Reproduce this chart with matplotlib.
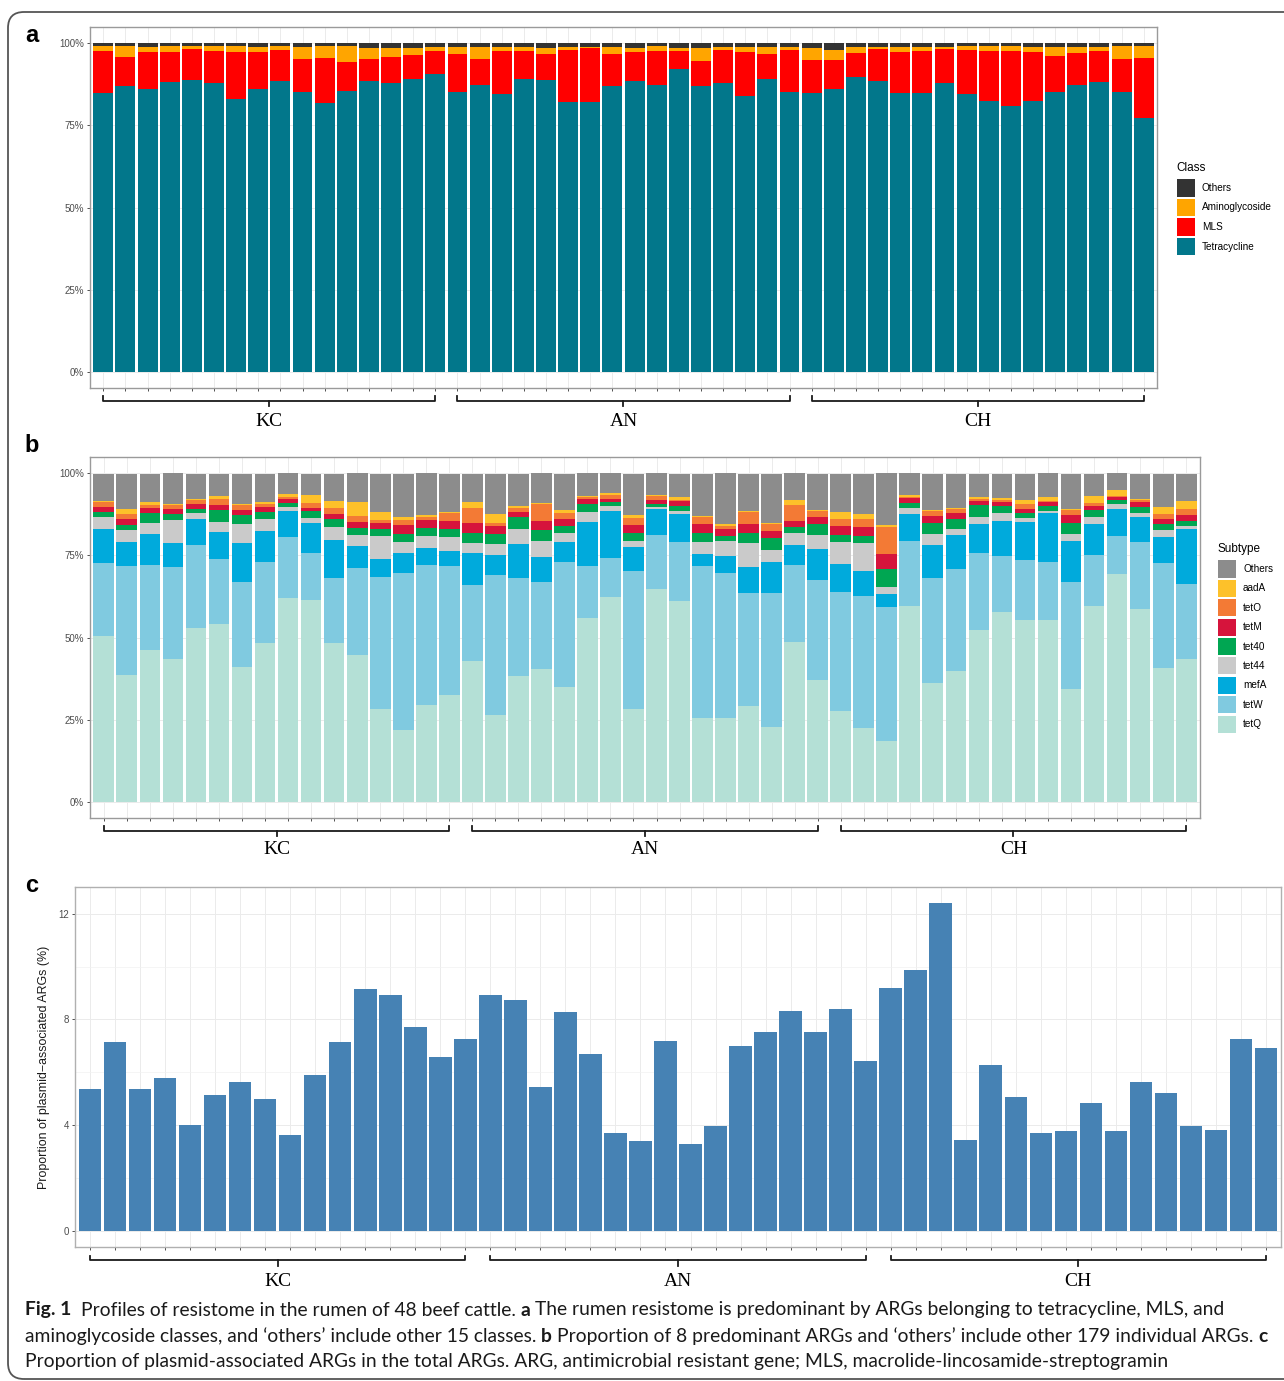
import matplotlib
matplotlib.use("Agg")
import matplotlib.pyplot as plt
from matplotlib import transforms
from matplotlib.patches import Rectangle, FancyBboxPatch
import numpy as np

plt.rcParams['font.family'] = ['Liberation Sans', 'DejaVu Sans']

W, H = 1284, 1381

# ---- data ------------------------------------------------------------------
samples = np.arange(1, 49)
group_names = ["KC", "AN", "CH"]
group_first = [1, 17, 33]
group_last = [16, 32, 48]

# panel a: class composition (%)
class_names = ["Others", "Aminoglycoside", "MLS", "Tetracycline"]
class_colors = ["#333333", "#FFA500", "#FF0000", "#02778B"]
tetracycline = [85.0, 86.9, 86.1, 88.1, 88.8, 88.0, 83.0, 86.1, 88.5, 85.2, 81.8, 85.5, 88.6, 88.0, 89.3, 90.6,
                85.2, 87.4, 84.5, 89.1, 88.9, 82.0, 82.0, 86.9, 88.6, 87.4, 92.2, 87.1, 87.8, 84.0, 89.1, 85.2,
                85.0, 86.0, 89.9, 88.4, 84.8, 84.8, 88.0, 84.7, 82.5, 80.8, 82.5, 85.2, 87.4, 88.1, 85.2, 77.2]
mls = [12.6, 9.1, 11.4, 9.4, 9.5, 9.8, 14.3, 11.4, 9.6, 10.2, 13.8, 8.7, 6.8, 8.0, 7.1, 7.2,
       11.5, 8.0, 13.1, 8.7, 7.8, 16.1, 16.5, 9.8, 8.9, 10.4, 5.6, 7.6, 10.3, 13.5, 7.6, 12.9,
       10.0, 9.0, 7.1, 9.9, 12.7, 13.0, 10.3, 13.4, 15.3, 17.0, 15.0, 11.0, 9.6, 9.7, 10.2, 18.5]
aminoglycoside = [1.5, 3.3, 1.3, 1.6, 0.8, 1.5, 2.0, 1.3, 1.2, 3.6, 3.7, 5.1, 3.1, 2.5, 2.3, 1.2,
                  2.1, 3.4, 1.2, 1.2, 1.8, 0.9, 0.5, 2.1, 1.0, 1.5, 0.7, 3.8, 0.7, 1.3, 2.1, 0.7,
                  3.5, 3.0, 1.8, 0.7, 1.3, 1.0, 0.7, 1.0, 1.3, 1.4, 1.3, 2.6, 1.8, 1.2, 3.7, 3.4]
class_others = [0.9, 0.7, 1.2, 0.9, 0.9, 0.7, 0.7, 1.2, 0.7, 1.0, 0.7, 0.7, 1.5, 1.5, 1.3, 1.0,
                1.2, 1.2, 1.2, 1.0, 1.5, 1.0, 1.0, 1.2, 1.5, 0.7, 1.5, 1.5, 1.2, 1.2, 1.2, 1.2,
                1.5, 2.0, 1.2, 1.0, 1.2, 1.2, 1.0, 0.9, 0.9, 0.8, 1.2, 1.2, 1.2, 1.0, 0.9, 0.9]

# panel b: subtype composition (%)
subtype_names = ["Others", "aadA", "tetO", "tetM", "tet40", "tet44", "mefA", "tetW", "tetQ"]
subtype_colors = ["#8C8C8C", "#FDC12A", "#F37A35", "#D6143C", "#00A652", "#CACACA", "#00AADC", "#80CAE0", "#B4E0D6"]
tetQ = [50.6, 38.5, 46.1, 43.6, 52.9, 54.1, 41.0, 48.3, 62.0, 61.4, 48.4, 44.6, 28.1, 21.8, 29.4, 32.4,
        42.8, 26.5, 38.2, 40.5, 34.8, 55.8, 62.2, 28.1, 64.8, 61.0, 25.5, 25.5, 29.2, 22.6, 48.6, 37.0,
        27.6, 22.3, 18.4, 59.7, 36.0, 39.8, 52.4, 57.9, 55.2, 55.2, 34.4, 59.7, 69.5, 58.7, 40.7, 43.3]
tetW = [22.1, 33.2, 26.1, 27.8, 25.2, 19.8, 25.8, 24.8, 18.5, 14.5, 19.7, 26.5, 40.4, 47.8, 42.7, 39.3,
        23.3, 42.6, 29.8, 26.5, 38.1, 15.9, 12.0, 42.2, 16.5, 18.1, 46.4, 44.1, 34.3, 41.0, 23.5, 30.6,
        36.2, 40.3, 41.0, 19.8, 32.0, 31.1, 23.5, 16.8, 18.4, 17.9, 32.6, 15.4, 11.3, 20.4, 32.0, 23.0]
mefA = [10.3, 7.3, 9.3, 7.3, 8.1, 8.1, 11.9, 9.2, 8.1, 8.9, 11.6, 6.9, 5.4, 6.1, 5.2, 4.8,
        9.8, 6.0, 10.6, 7.4, 6.1, 13.6, 14.4, 7.3, 8.0, 8.4, 3.5, 5.3, 7.9, 9.3, 6.1, 9.5,
        8.6, 7.8, 3.8, 8.1, 10.2, 10.3, 8.8, 10.8, 11.7, 14.7, 12.4, 9.4, 8.3, 7.6, 8.0, 16.7]
tet44 = [3.7, 3.7, 3.5, 7.2, 1.6, 3.2, 5.8, 3.9, 1.2, 1.7, 4.0, 3.3, 6.9, 3.4, 3.7, 4.0,
         3.0, 3.5, 4.6, 4.9, 2.8, 3.0, 1.5, 1.8, 0.5, 1.0, 3.7, 4.6, 7.4, 3.8, 3.6, 4.1,
         6.8, 8.4, 2.3, 1.8, 3.2, 1.8, 2.1, 2.5, 1.0, 0.8, 2.0, 2.2, 1.5, 1.3, 2.0, 1.0]
tet40 = [1.6, 1.5, 3.0, 1.7, 1.5, 3.6, 2.8, 2.1, 1.3, 2.0, 2.5, 2.2, 2.2, 2.3, 2.5, 2.5,
         3.0, 2.8, 3.5, 3.5, 2.2, 2.5, 1.3, 2.5, 0.8, 1.7, 2.8, 1.3, 3.0, 3.7, 1.9, 3.4,
         2.1, 2.2, 5.5, 1.7, 3.5, 3.0, 3.5, 2.2, 1.7, 1.5, 3.5, 2.1, 1.2, 1.7, 1.8, 1.5]
tetM = [1.4, 1.8, 1.5, 1.7, 1.5, 1.5, 1.7, 1.5, 1.0, 1.0, 1.5, 1.8, 2.0, 3.0, 2.3, 2.5,
        3.0, 2.5, 1.5, 2.7, 2.2, 1.3, 0.9, 2.5, 1.3, 1.3, 2.7, 2.2, 2.7, 2.2, 1.8, 2.0,
        2.7, 2.8, 4.4, 1.3, 2.0, 1.8, 1.4, 1.0, 1.3, 1.2, 2.5, 1.2, 1.0, 1.5, 1.7, 1.7]
tetO = [1.7, 1.5, 1.0, 1.0, 1.0, 1.9, 1.4, 1.0, 0.7, 1.5, 1.7, 1.7, 0.8, 1.5, 0.9, 2.5,
        4.6, 1.0, 1.3, 5.3, 1.8, 0.7, 1.2, 2.0, 1.2, 0.5, 2.1, 1.0, 3.7, 2.0, 4.8, 2.0,
        2.2, 2.2, 8.3, 0.4, 1.7, 1.4, 0.5, 0.8, 1.5, 0.3, 1.5, 1.0, 0.3, 0.8, 1.3, 2.1]
aadA = [0.3, 1.8, 0.7, 0.3, 0.4, 0.8, 0.3, 0.5, 0.8, 2.5, 2.3, 4.4, 2.4, 0.7, 0.5, 0.3,
        1.7, 2.8, 0.7, 0.3, 0.7, 0.3, 0.6, 0.8, 0.3, 0.8, 0.2, 0.5, 0.3, 0.3, 1.6, 0.3,
        2.0, 1.7, 0.6, 0.5, 0.3, 0.3, 0.5, 0.5, 1.0, 1.2, 0.3, 2.2, 1.8, 0.3, 2.2, 2.2]
subtype_others = [8.2, 10.6, 8.7, 9.4, 7.7, 6.9, 9.2, 8.6, 6.4, 6.4, 8.1, 8.6, 11.7, 13.3, 12.8, 11.6,
                  8.7, 12.1, 9.7, 8.9, 11.2, 6.9, 5.9, 12.7, 6.6, 7.1, 13.0, 15.5, 11.4, 15.0, 8.1, 10.9,
                  11.7, 12.2, 15.7, 6.7, 10.9, 10.4, 7.2, 7.4, 8.1, 7.2, 10.6, 6.7, 5.1, 7.6, 10.2, 8.4]

# panel c: plasmid-associated ARGs (%)
plasmid_pct = [5.38, 7.14, 5.38, 5.78, 4.00, 5.15, 5.62, 5.00, 3.62, 5.88, 7.16, 9.17, 8.94, 7.70, 6.56, 7.25,
               8.91, 8.73, 5.43, 8.27, 6.70, 3.71, 3.39, 7.19, 3.30, 3.98, 7.00, 7.51, 8.32, 7.54, 8.39, 6.44,
               9.21, 9.86, 12.40, 3.43, 6.26, 5.08, 3.71, 3.76, 4.82, 3.77, 5.64, 5.23, 3.97, 3.83, 7.27, 6.93]

caption_lines = [
    [("Fig. 1", True), ("  Profiles of resistome in the rumen of 48 beef cattle.", False), (" a", True),
     (" The rumen resistome is predominant by ARGs belonging to tetracycline, MLS, and", False)],
    [("aminoglycoside classes, and \u2018others\u2019 include other 15 classes.", False), (" b", True),
     (" Proportion of 8 predominant ARGs and \u2018others\u2019 include other 179 individual ARGs.", False), (" c", True)],
    [("Proportion of plasmid-associated ARGs in the total ARGs. ARG, antimicrobial resistant gene; MLS, macrolide-lincosamide-streptogramin", False)],
]


# ---- helpers ---------------------------------------------------------------
def fy(y):
    return 1 - y / H


def rect(x0, y0, x1, y1):
    return [x0 / W, 1 - y1 / H, (x1 - x0) / W, (y1 - y0) / H]


fig = plt.figure(figsize=(W / 100, H / 100), dpi=100)
fig.patch.set_facecolor("white")

border = FancyBboxPatch((8, H - 1379), 1320, 1379 - 12, boxstyle="round,pad=0,rounding_size=16",
                        transform=transforms.IdentityTransform(), fill=False, ec="#555555", lw=1.3)
fig.add_artist(border)


def style_axes(ax, ylim, yticks, ylabels, minor=None, spine_col="#9A9A9A"):
    ax.set_xlim(0.4, 48.6)
    ax.set_ylim(*ylim)
    ax.set_xticks(samples)
    ax.set_xticklabels([])
    ax.set_yticks(yticks)
    ax.set_yticklabels(ylabels, fontsize=7, color="#4D4D4D")
    if minor is not None:
        ax.set_yticks(minor, minor=True)
        ax.tick_params(axis="y", which="minor", length=0)
        ax.grid(True, which="minor", axis="y", color="#F2F2F2", lw=0.5)
    ax.tick_params(axis="both", which="major", length=2.3, width=0.6, color="#333333", pad=2)
    ax.grid(True, which="major", color="#EBEBEB", lw=0.7)
    ax.set_axisbelow(True)
    for s in ax.spines.values():
        s.set_color(spine_col)
        s.set_linewidth(1.0)


def brackets(ax, y_line, y_end, y_tick, y_text):
    tr = transforms.blended_transform_factory(ax.transData, fig.transFigure)
    for name, a, b in zip(group_names, group_first, group_last):
        xc = (a + b) / 2
        ax.plot([a, a, b, b], [fy(y_end), fy(y_line), fy(y_line), fy(y_end)], transform=tr,
                clip_on=False, color="#1A1A1A", lw=1.3, solid_joinstyle="round")
        ax.plot([xc, xc], [fy(y_line), fy(y_tick)], transform=tr, clip_on=False, color="#1A1A1A", lw=1.3)
        ax.text(xc, fy(y_text), name, transform=tr, ha="center", va="center",
                family=["Liberation Serif", "DejaVu Serif"], fontsize=14)


def legend(title, names, colors, x, y_title, y_first, step):
    fig.text(x / W, fy(y_title), title, fontsize=8.5, ha="left", va="center")
    for i, (n, c) in enumerate(zip(names, colors)):
        yc = y_first + i * step
        fig.add_artist(Rectangle(((x + 1) / W, fy(yc + 8.5)), 18 / W, 17 / H, transform=fig.transFigure,
                                 color=c, lw=0))
        fig.text((x + 26) / W, fy(yc), n, fontsize=7.2, ha="left", va="center")


# ---- panel a ---------------------------------------------------------------
ax_a = fig.add_axes(rect(90, 27, 1157, 388))
bottom = np.zeros(48)
for vals, col in zip([tetracycline, mls, aminoglycoside, class_others], class_colors[::-1]):
    ax_a.bar(samples, vals, width=0.9, bottom=bottom, color=col, lw=0)
    bottom += np.array(vals)
style_axes(ax_a, (-5, 105), [0, 25, 50, 75, 100], ["0%", "25%", "50%", "75%", "100%"])
brackets(ax_a, 401, 396, 406, 421)
legend("Class", class_names, class_colors, 1176, 168, 188, 19.5)

# ---- panel b ---------------------------------------------------------------
ax_b = fig.add_axes(rect(90, 457, 1200, 818))
bottom = np.zeros(48)
stack_b = [tetQ, tetW, mefA, tet44, tet40, tetM, tetO, aadA, subtype_others]
for vals, col in zip(stack_b, subtype_colors[::-1]):
    ax_b.bar(samples, vals, width=0.9, bottom=bottom, color=col, lw=0)
    bottom += np.array(vals)
style_axes(ax_b, (-5, 105), [0, 25, 50, 75, 100], ["0%", "25%", "50%", "75%", "100%"])
brackets(ax_b, 831, 826, 836, 850)
legend("Subtype", subtype_names, subtype_colors, 1217, 549, 569, 19.4)

# ---- panel c ---------------------------------------------------------------
ax_c = fig.add_axes(rect(75, 887, 1281, 1247))
ax_c.bar(samples, plasmid_pct, width=0.9, color="#4682B4", lw=0)
style_axes(ax_c, (-0.62, 13.02), [0, 4, 8, 12], ["0", "4", "8", "12"], minor=[2, 6, 10], spine_col="#B0B0B0")
ax_c.set_ylabel("Proportion of plasmid\u2212associated ARGs (%)", fontsize=8.9, color="#1A1A1A", labelpad=6)
brackets(ax_c, 1260, 1256, 1266, 1282)

# panel letters
for lab, y in [("a", 35), ("b", 445), ("c", 885)]:
    fig.text(32 / W, fy(y), lab, fontsize=17, fontweight="bold", ha="center", va="center")

# ---- caption ---------------------------------------------------------------
cap_font = ["Lato", "DejaVu Sans"]
renderer = fig.canvas.get_renderer()


def measure(txt, size, bold):
    t = fig.text(0, 0, txt, fontsize=size, fontweight="bold" if bold else "normal", family=cap_font)
    w = t.get_window_extent(renderer).width
    t.remove()
    return w


space_w = measure("a a", 10, False) - measure("aa", 10, False)


def seg_width(txt, size, bold):
    stripped = txt.lstrip(" ")
    lead = len(txt) - len(stripped)
    return lead * space_w * size / 10 + measure(stripped, size, bold), lead


w10 = sum(seg_width(t, 10, b)[0] for t, b in caption_lines[0])
cap_size = 10 * (1230 - 25) / w10

for line, yc in zip(caption_lines, [1310, 1336, 1362]):
    x = 25.0
    for txt, bold in line:
        stripped = txt.lstrip(" ")
        lead = len(txt) - len(stripped)
        x += lead * space_w * cap_size / 10
        t = fig.text(x / W, fy(yc), stripped, fontsize=cap_size, fontweight="bold" if bold else "normal",
                     family=cap_font, ha="left", va="center", color="#1A1A1A")
        x += t.get_window_extent(renderer).width

fig.savefig("out.png", dpi=100)
